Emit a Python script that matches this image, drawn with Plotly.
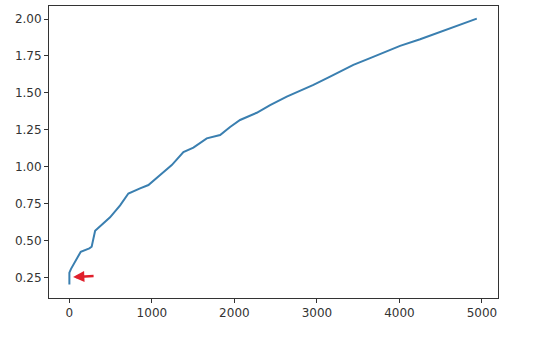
import plotly.graph_objects as go

x_vals = [0, 0, 20, 70, 138, 242, 270, 312, 372, 493, 615, 715, 857, 958, 1100, 1241,
          1382, 1503, 1665, 1827, 1948, 2069, 2271, 2433, 2635, 2756, 2958, 3160,
          3281, 3442, 3645, 3847, 4008, 4251, 4453, 4655, 4938]
y_vals = [0.205, 0.284, 0.31, 0.36, 0.426, 0.449, 0.46, 0.568, 0.60, 0.659, 0.74, 0.82,
          0.855, 0.877, 0.945, 1.012, 1.10, 1.13, 1.193, 1.215, 1.27, 1.317, 1.366,
          1.418, 1.475, 1.504, 1.554, 1.61, 1.644, 1.69, 1.735, 1.78, 1.818, 1.863,
          1.904, 1.945, 2.003]

x_ticks = [0, 1000, 2000, 3000, 4000, 5000]
y_ticks = [0.25, 0.50, 0.75, 1.00, 1.25, 1.50, 1.75, 2.00]

fig = go.Figure()
fig.add_trace(go.Scatter(x=x_vals, y=y_vals, mode="lines",
                         line=dict(color="#3a7fb0", width=2), showlegend=False))

fig.add_annotation(x=45, y=0.255, ax=22, ay=-1, xref="x", yref="y",
                   axref="pixel", ayref="pixel", showarrow=True, text="",
                   arrowcolor="#e0202c", arrowwidth=2.5, arrowhead=2, arrowsize=0.9)

axis_common = dict(showline=True, linecolor="#333333", linewidth=1, mirror=True,
                   ticks="outside", ticklen=4, tickcolor="#333333", showgrid=False,
                   zeroline=False, tickfont=dict(family="DejaVu Sans", size=12, color="#333333"))

fig.update_layout(
    width=540, height=340,
    margin=dict(l=49, r=42, t=6, b=42),
    paper_bgcolor="white", plot_bgcolor="white",
    xaxis=dict(range=[-247, 5195], tickvals=x_ticks,
               ticktext=[str(v) for v in x_ticks], **axis_common),
    yaxis=dict(range=[0.113, 2.088], tickvals=y_ticks,
               ticktext=[f"{v:.2f}" for v in y_ticks], **axis_common),
)

fig.write_html("out.html")
